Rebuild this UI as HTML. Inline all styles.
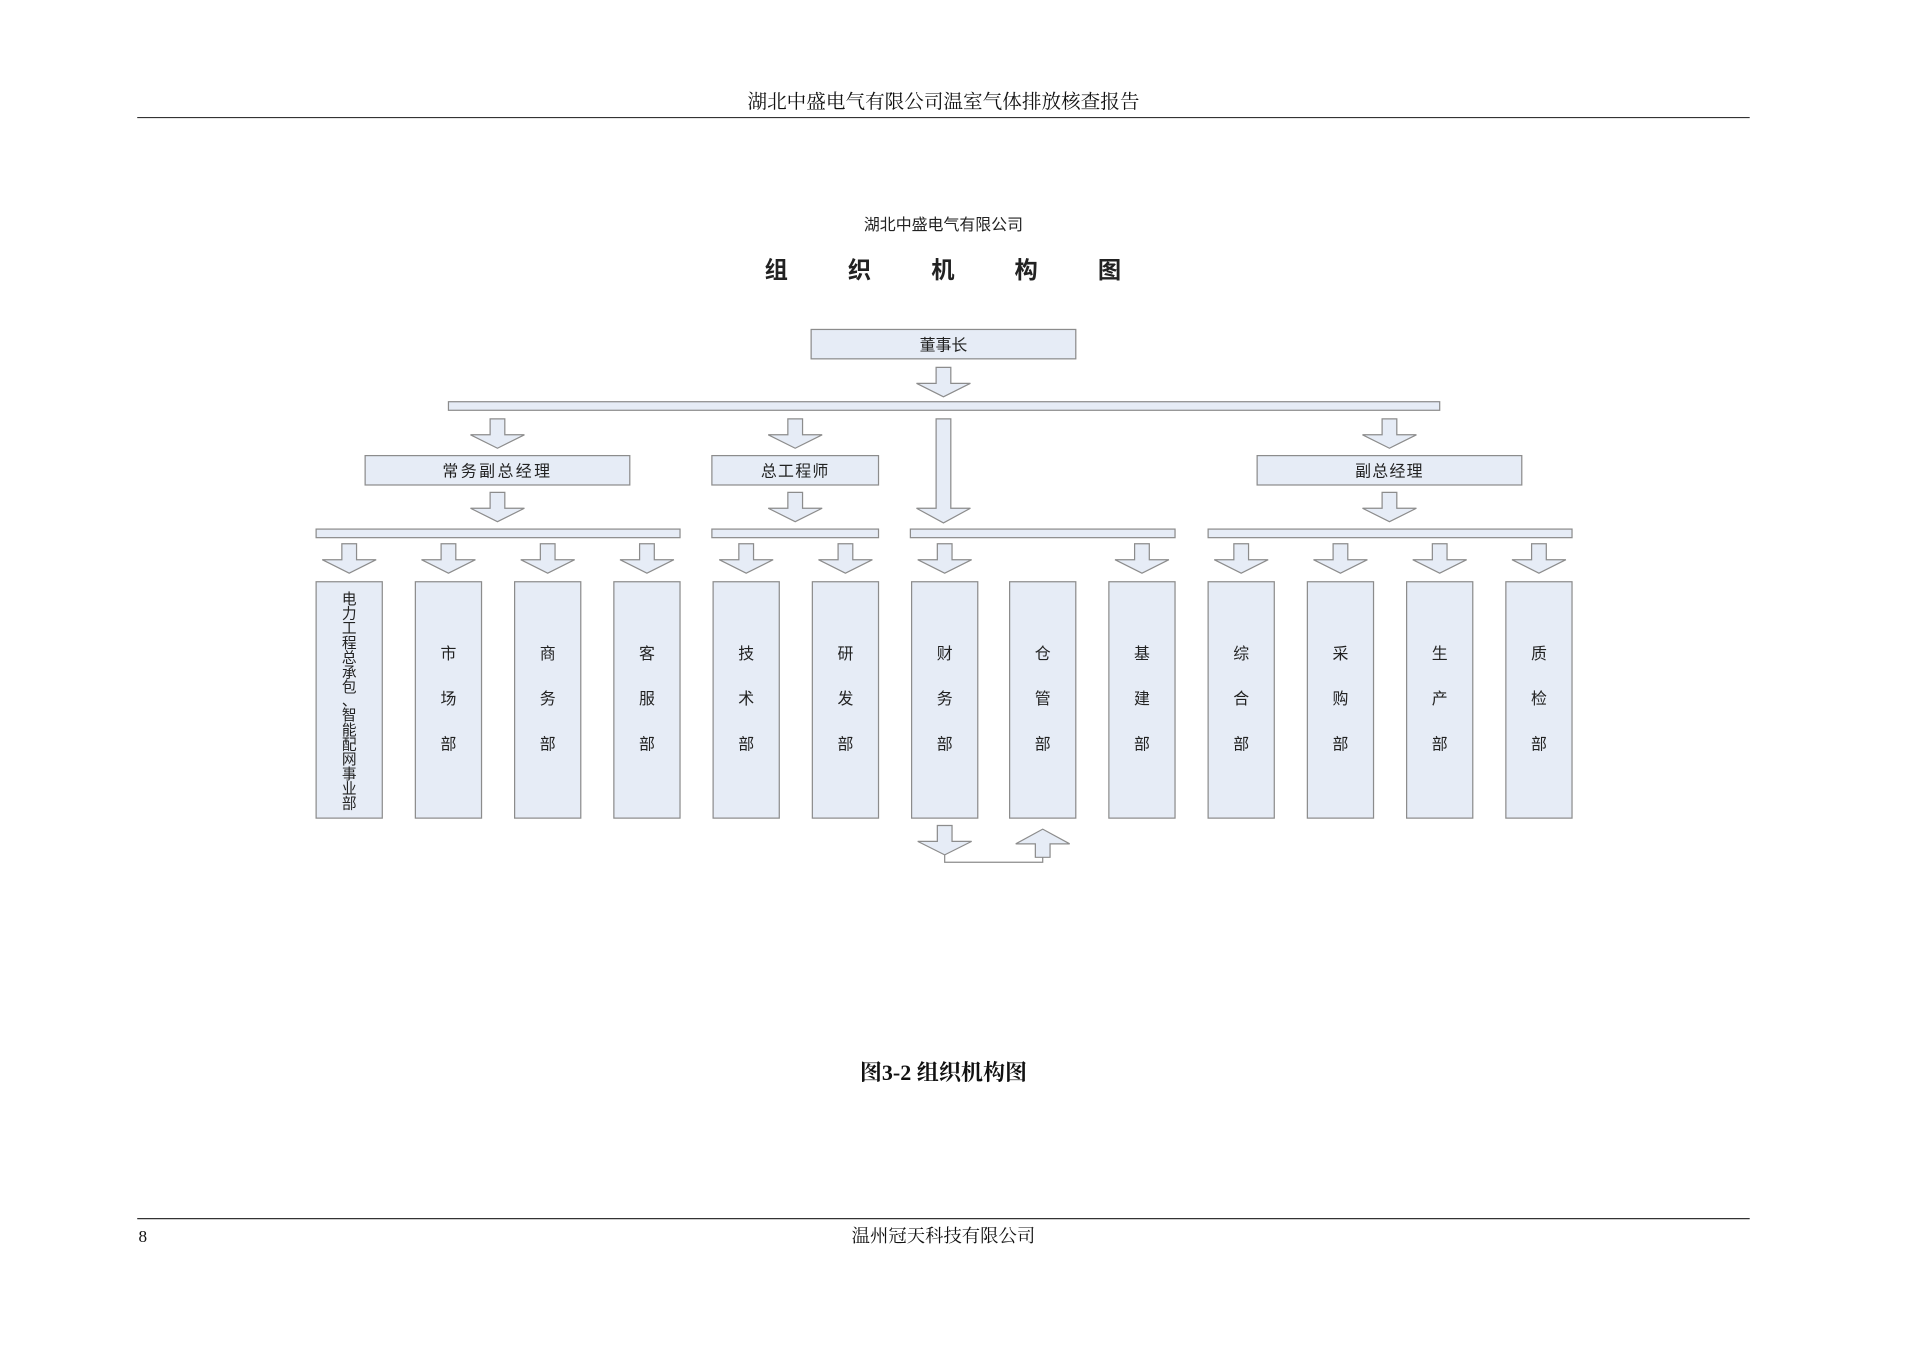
<!DOCTYPE html>
<html><head><meta charset="utf-8"><style>
html,body{margin:0;padding:0;background:#fff;}
svg{display:block;}
</style></head><body>
<svg width="1920" height="1357" viewBox="0 0 1567 1108" preserveAspectRatio="none" xmlns="http://www.w3.org/2000/svg">
<defs>
<polygon id="a24" points="-6,0 6,0 6,13 22,13 0,24 -22,13 -6,13" fill="#e6ecf6" stroke="#8c8c8c" stroke-width="1"/>
<polygon id="a85" points="-6,0 6,0 6,73 22,73 0,85 -22,73 -6,73" fill="#e6ecf6" stroke="#8c8c8c" stroke-width="1"/>
</defs>
<g font-family="'Liberation Serif','Noto Serif CJK SC',serif" fill="#111">
<text x="770" y="88" font-size="16" text-anchor="middle">湖北中盛电气有限公司温室气体排放核查报告</text>
<text x="113" y="1014" font-size="14">8</text>
<text x="770" y="1014" font-size="15" text-anchor="middle">温州冠天科技有限公司</text>
<text x="770" y="882" font-size="18" font-weight="bold" text-anchor="middle">图3-2  组织机构图</text>
</g>
<line x1="112" y1="96" x2="1428" y2="96" stroke="#333" stroke-width="1"/>
<line x1="112" y1="995" x2="1428" y2="995" stroke="#333" stroke-width="1"/>
<g font-family="'Liberation Sans','Noto Sans CJK SC',sans-serif" fill="#222" text-anchor="middle">
<text x="770" y="188" font-size="13">湖北中盛电气有限公司</text>
<text x="770" y="227" font-size="19" font-weight="bold" letter-spacing="49" dx="24">组织机构图</text>
</g>
<g fill="#e6ecf6" stroke="#8c8c8c" stroke-width="1">
<rect x="662" y="269" width="216" height="24"/>
<rect x="366" y="328" width="809" height="7"/>
<rect x="298" y="372" width="216" height="24"/>
<rect x="581" y="372" width="136" height="24"/>
<rect x="1026" y="372" width="216" height="24"/>
<rect x="258" y="432" width="297" height="7"/>
<rect x="581" y="432" width="136" height="7"/>
<rect x="743" y="432" width="216" height="7"/>
<rect x="986" y="432" width="297" height="7"/>
<rect x="258" y="475" width="54" height="193"/>
<rect x="339" y="475" width="54" height="193"/>
<rect x="420" y="475" width="54" height="193"/>
<rect x="501" y="475" width="54" height="193"/>
<rect x="582" y="475" width="54" height="193"/>
<rect x="663" y="475" width="54" height="193"/>
<rect x="744" y="475" width="54" height="193"/>
<rect x="824" y="475" width="54" height="193"/>
<rect x="905" y="475" width="54" height="193"/>
<rect x="986" y="475" width="54" height="193"/>
<rect x="1067" y="475" width="54" height="193"/>
<rect x="1148" y="475" width="54" height="193"/>
<rect x="1229" y="475" width="54" height="193"/>
</g>
<use href="#a24" x="770" y="300"/>
<use href="#a24" x="406" y="342"/>
<use href="#a24" x="649" y="342"/>
<use href="#a24" x="1134" y="342"/>
<use href="#a85" x="770" y="342"/>
<use href="#a24" x="406" y="402"/>
<use href="#a24" x="649" y="402"/>
<use href="#a24" x="1134" y="402"/>
<use href="#a24" x="285" y="444"/>
<use href="#a24" x="366" y="444"/>
<use href="#a24" x="447" y="444"/>
<use href="#a24" x="528" y="444"/>
<use href="#a24" x="609" y="444"/>
<use href="#a24" x="690" y="444"/>
<use href="#a24" x="771" y="444"/>
<use href="#a24" x="932" y="444"/>
<use href="#a24" x="1013" y="444"/>
<use href="#a24" x="1094" y="444"/>
<use href="#a24" x="1175" y="444"/>
<use href="#a24" x="1256" y="444"/>
<use href="#a24" x="771" y="674"/>
<polygon points="845,700 857,700 857,689 873,689 851,677 829,689 845,689" fill="#e6ecf6" stroke="#8c8c8c" stroke-width="1"/>
<polyline points="771,698 771,704 851,704 851,700" fill="none" stroke="#8c8c8c" stroke-width="1"/>
<g font-family="'Liberation Sans','Noto Sans CJK SC',sans-serif" fill="#222" text-anchor="middle" font-size="13">
<text x="770" y="286">董事长</text>
<text x="406" y="389" letter-spacing="2">常务副总经理</text>
<text x="649" y="389" letter-spacing="1">总工程师</text>
<text x="1134" y="389" letter-spacing="1">副总经理</text>
</g>
<g font-family="'Liberation Sans','Noto Sans CJK SC',sans-serif" fill="#222" text-anchor="middle" font-size="12">
<text x="285" y="493">电</text><text x="285" y="505">力</text><text x="285" y="517">工</text><text x="285" y="529">程</text><text x="285" y="541">总</text><text x="285" y="553">承</text><text x="285" y="565">包</text><text x="285" y="576">、</text><text x="285" y="588">智</text><text x="285" y="600">能</text><text x="285" y="612">配</text><text x="285" y="624">网</text><text x="285" y="636">事</text><text x="285" y="648">业</text><text x="285" y="660">部</text>
</g>
<g font-family="'Liberation Sans','Noto Sans CJK SC',sans-serif" fill="#222" text-anchor="middle" font-size="13">
<text x="366" y="538">市</text><text x="366" y="575">场</text><text x="366" y="612">部</text>
<text x="447" y="538">商</text><text x="447" y="575">务</text><text x="447" y="612">部</text>
<text x="528" y="538">客</text><text x="528" y="575">服</text><text x="528" y="612">部</text>
<text x="609" y="538">技</text><text x="609" y="575">术</text><text x="609" y="612">部</text>
<text x="690" y="538">研</text><text x="690" y="575">发</text><text x="690" y="612">部</text>
<text x="771" y="538">财</text><text x="771" y="575">务</text><text x="771" y="612">部</text>
<text x="851" y="538">仓</text><text x="851" y="575">管</text><text x="851" y="612">部</text>
<text x="932" y="538">基</text><text x="932" y="575">建</text><text x="932" y="612">部</text>
<text x="1013" y="538">综</text><text x="1013" y="575">合</text><text x="1013" y="612">部</text>
<text x="1094" y="538">采</text><text x="1094" y="575">购</text><text x="1094" y="612">部</text>
<text x="1175" y="538">生</text><text x="1175" y="575">产</text><text x="1175" y="612">部</text>
<text x="1256" y="538">质</text><text x="1256" y="575">检</text><text x="1256" y="612">部</text>
</g>
</svg>
</body></html>
